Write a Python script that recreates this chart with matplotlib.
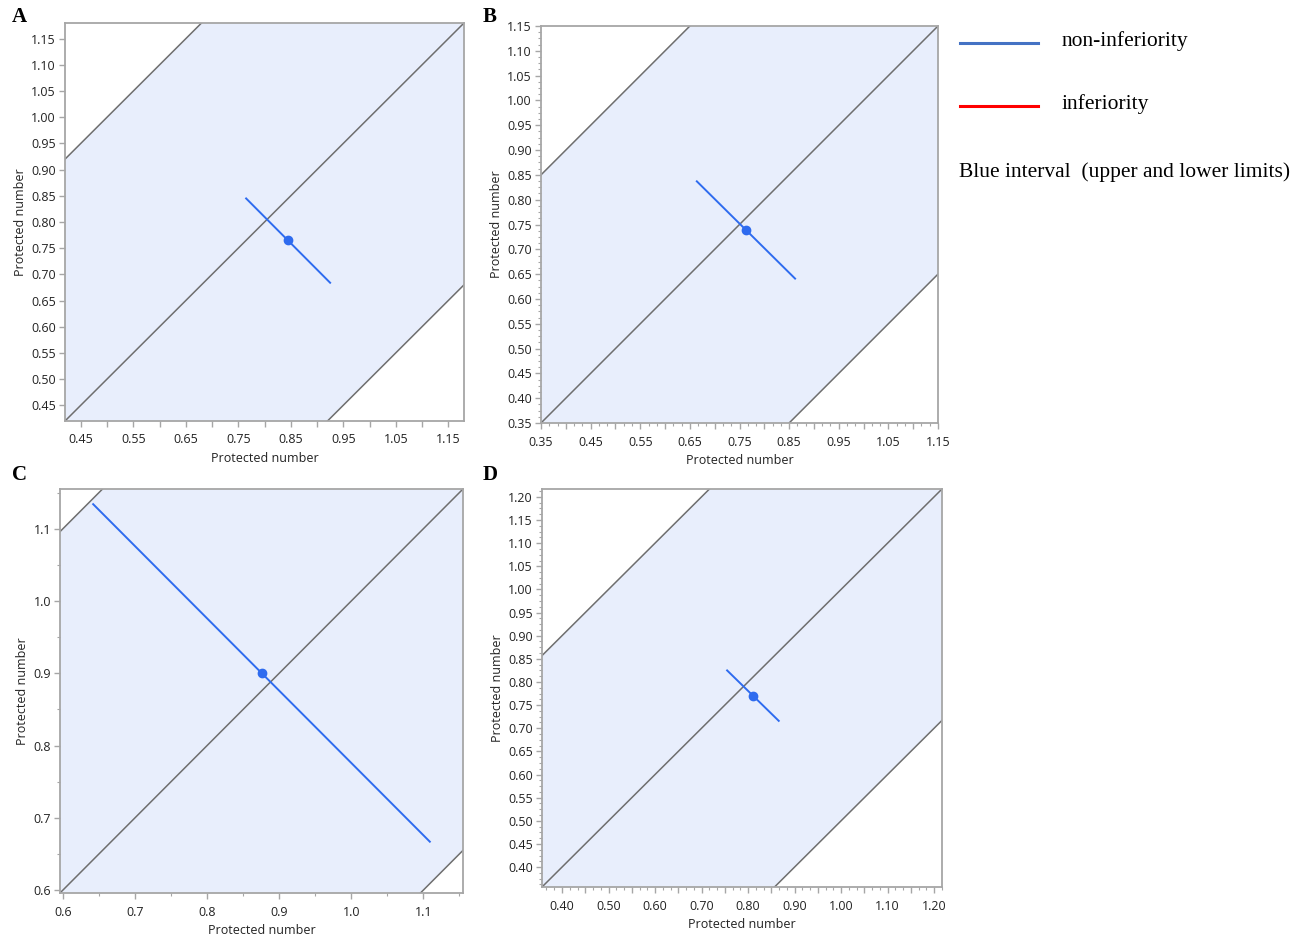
import matplotlib
matplotlib.use("Agg")
import matplotlib.pyplot as plt
from matplotlib.ticker import MultipleLocator, AutoMinorLocator, FuncFormatter
import numpy as np

# equivalence plot data
panels = ['A', 'B', 'C', 'D']
x_lo = [0.42, 0.35, 0.596, 0.357]
x_hi = [1.18, 1.15, 1.155, 1.217]
margin = 0.5
seg_x0 = [0.765, 0.664, 0.642, 0.755]
seg_y0 = [0.845, 0.837, 1.134, 0.825]
seg_x1 = [0.925, 0.862, 1.109, 0.866]
seg_y1 = [0.684, 0.641, 0.667, 0.716]
pt_x = [0.845, 0.763, 0.876, 0.811]
pt_y = [0.765, 0.739, 0.900, 0.770]
legend_labels = ['non-inferiority', 'inferiority']
legend_colors = ['#4472C4', '#FF0000']
note = 'Blue interval  (upper and lower limits)'

W, H = 1314, 935
fig = plt.figure(figsize=(W / 100, H / 100), dpi=100)

def px(l, t, r, b):
    return [l / W, 1 - b / H, (r - l) / W, (b - t) / H]

boxes = [px(65, 23, 464, 421), px(541, 26, 938, 423),
         px(60, 489, 463, 893), px(542, 489, 942, 887)]
letter_pos = [(12, 17), (483, 17), (12, 475), (483, 475)]

# tick setup per panel: (x major, x label step, x minor n, y major, y minor n)
tick_cfg = [(0.05, 2, 1, 0.05, 1),
            (0.05, 2, 3, 0.05, 4),
            (0.1, 1, 2, 0.1, 2),
            (0.05, 2, 3, 0.05, 4)]
fmt_dec = [2, 2, 1, 2]
first_lab = [0.45, 0.35, 0.6, 0.40]

tick_font = {'family': 'Open Sans', 'size': 9}
spine_col = '#A6A6A6'
diag_col = '#6E6E6E'
band_col = '#E8EEFC'
seg_col = '#2E6BEF'

for i, name in enumerate(panels):
    ax = fig.add_axes(boxes[i])
    lo, hi = x_lo[i], x_hi[i]
    xs = np.array([lo - 1, hi + 1])
    ax.fill_between(xs, xs - margin, xs + margin, color=band_col, lw=0, zorder=0)
    for off in (-margin, 0, margin):
        ax.plot(xs, xs + off, color=diag_col, lw=1.1, zorder=1)
    ax.plot([seg_x0[i], seg_x1[i]], [seg_y0[i], seg_y1[i]], color=seg_col, lw=1.4, zorder=2)
    ax.plot(pt_x[i], pt_y[i], 'o', color=seg_col, ms=6, zorder=3)
    ax.set_xlim(lo, hi)
    ax.set_ylim(lo, hi)

    xm, xstep, xn, ym, yn = tick_cfg[i]
    d = fmt_dec[i]
    f0 = first_lab[i]
    ax.xaxis.set_major_locator(MultipleLocator(xm))
    ax.yaxis.set_major_locator(MultipleLocator(ym))
    if xn > 1:
        ax.xaxis.set_minor_locator(AutoMinorLocator(xn))
    if yn > 1:
        ax.yaxis.set_minor_locator(AutoMinorLocator(yn))

    def xf(v, p, f0=f0, step=xm * xstep, d=d):
        k = (v - f0) / step
        if abs(k - round(k)) < 1e-6:
            return f'{v:.{d}f}'
        return ''
    ax.xaxis.set_major_formatter(FuncFormatter(xf))
    ax.yaxis.set_major_formatter(FuncFormatter(lambda v, p, d=d: f'{v:.{d}f}'))

    for s in ax.spines.values():
        s.set_color(spine_col)
        s.set_linewidth(1.3)
    ax.tick_params(which='major', length=4.5, width=1, color=spine_col, pad=2,
                   labelsize=9, labelcolor='#222222')
    ax.tick_params(axis='x', which='major', pad=4.5)
    ax.tick_params(which='minor', length=2.5, width=0.8, color=spine_col)
    for lab in ax.get_xticklabels() + ax.get_yticklabels():
        lab.set_fontfamily('Open Sans')
    ax.set_xlabel('Protected number', fontdict=tick_font, color='#222222', labelpad=4)
    ax.set_ylabel('Protected number', fontdict=tick_font, color='#222222', labelpad=3)

    lx, ly = letter_pos[i]
    fig.text(lx / W, 1 - ly / H, name, fontsize=15, fontweight='bold',
             family='Liberation Serif', va='center', ha='left')

# legend drawn as free figure artists
leg_y = [43, 106]
for j, lab in enumerate(legend_labels):
    y = 1 - leg_y[j] / H
    fig.add_artist(plt.Line2D([960 / W, 1038 / W], [y, y], color=legend_colors[j], lw=2.2))
    fig.text(1062 / W, 1 - (leg_y[j] - 2) / H, lab, fontsize=15.5, family='Liberation Serif',
             va='center', ha='left')
fig.text(959 / W, 1 - 172 / H, note, fontsize=15.5, family='Liberation Serif', va='center', ha='left')

fig.savefig('out.png', dpi=100)
